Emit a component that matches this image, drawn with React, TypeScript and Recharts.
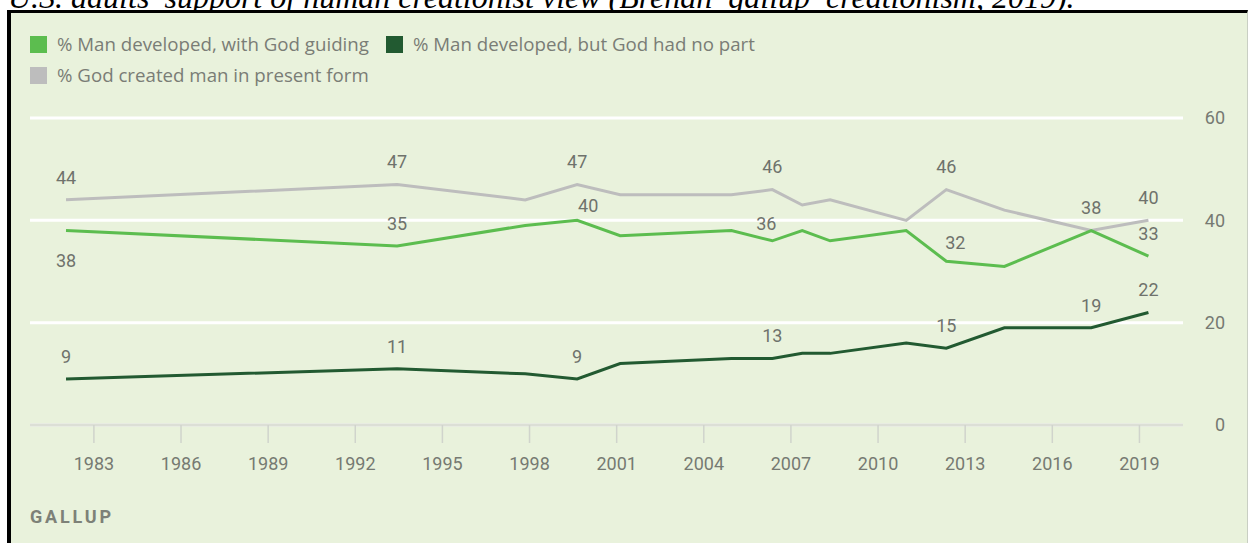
import React from 'react';
import { LineChart, Line, XAxis, YAxis, CartesianGrid, LabelList } from 'recharts';

const surveyDates = [1982.04, 1993.44, 1997.85, 1999.64, 2001.12, 2004.95, 2006.36, 2007.39, 2008.35, 2010.97, 2012.35, 2014.35, 2017.34, 2019.31];
const godGuiding = [38, 35, 39, 40, 37, 38, 36, 38, 36, 38, 32, 31, 38, 33];
const godNoPart = [9, 11, 10, 9, 12, 13, 13, 14, 14, 16, 15, 19, 19, 22];
const presentForm = [44, 47, 44, 47, 45, 45, 46, 43, 44, 40, 46, 42, 38, 40];

const yearTicks = [1983, 1986, 1989, 1992, 1995, 1998, 2001, 2004, 2007, 2010, 2013, 2016, 2019];
const valueTicks = [0, 20, 40, 60];

// which points carry a value label
const presentFormLabels = [0, 1, 3, 6, 10, 13];
const godGuidingLabels = [0, 1, 3, 6, 10, 12, 13];
const godNoPartLabels = [0, 1, 3, 6, 10, 12, 13];

const data = surveyDates.map((date, i) => ({
  date,
  godGuiding: godGuiding[i],
  godNoPart: godNoPart[i],
  presentForm: presentForm[i],
}));

const LIGHT = '#5cbd4f';
const DARK = '#225a31';
const GRAY = '#bdbdbd';
const TEXT = '#767a72';
const FONT = 'Roboto, "Liberation Sans", sans-serif';
const LEGEND_FONT = '"Open Sans", Roboto, sans-serif';

// label nudges, relative to the default spot above the point
const nudges: Record<string, Record<number, { dx?: number; dy?: number }>> = {
  godGuiding: { 0: { dy: 30 }, 3: { dx: 11, dy: -15 }, 6: { dx: -6, dy: -17.5 }, 10: { dx: 9, dy: -18.5 } },
};

const makeLabel = (series: string, shown: number[]) => (props: any) => {
  const { x, y, value, index } = props;
  if (!shown.includes(index)) return null;
  const n = (nudges[series] && nudges[series][index]) || {};
  return (
    <text
      x={x + (n.dx ?? 0)}
      y={y + (n.dy ?? -22.5)}
      dy="0.35em"
      textAnchor="middle"
      fill="#6f726c"
      fontSize={18}
      fontFamily={FONT}
    >
      {value}
    </text>
  );
};

const RightTick = (props: any) => {
  const { x, y, payload } = props;
  return (
    <text x={x} y={y} dy="0.35em" textAnchor="end" fill={TEXT} fontSize={18} fontFamily={FONT}>
      {payload.value}
    </text>
  );
};

const LegendItem = ({ color, text }: { color: string; text: string }) => (
  <span style={{ display: 'inline-flex', alignItems: 'center', marginRight: 17 }}>
    <span style={{ width: 17, height: 17, background: color, display: 'inline-block', marginRight: 10 }}></span>
    <span>{text}</span>
  </span>
);

export default function App() {
  return (
    <div style={{ position: 'absolute', left: 0, top: 0, width: 1249, height: 543, overflow: 'hidden', background: '#fff' }}>
      {/* caption, only its lower half is in view */}
      <div
        style={{
          position: 'absolute', left: 8, top: -19, fontFamily: '"Liberation Serif", serif',
          fontStyle: 'italic', fontSize: 32, lineHeight: '32px', color: '#000', whiteSpace: 'nowrap',
        }}
      >
        U.S. adults’ support of human creationist view (<span style={{ textDecoration: 'underline' }}>Brenan_gallup_creationism</span>, 2019).
      </div>

      {/* panel */}
      <div
        style={{
          position: 'absolute', left: 7, top: 10, width: 1236, height: 560, background: '#e9f2dc',
          borderTop: '3px solid #000', borderLeft: '4px solid #000', borderRight: '1px solid #c9cfc3',
        }}
      />

      {/* legend */}
      <div style={{ position: 'absolute', left: 30, top: 31, fontFamily: LEGEND_FONT, fontSize: 18.7, color: '#7a7d76', lineHeight: '26px' }}>
        <div style={{ display: 'flex' }}>
          <LegendItem color={LIGHT} text="% Man developed, with God guiding" />
          <LegendItem color={DARK} text="% Man developed, but God had no part" />
        </div>
        <div style={{ display: 'flex', marginTop: 5 }}>
          <LegendItem color={GRAY} text="% God created man in present form" />
        </div>
      </div>

      <div style={{ position: 'absolute', left: 0, top: 0 }}>
        <LineChart width={1249} height={543} data={data} margin={{ top: 118, right: 0, bottom: 58, left: 30 }}>
          <CartesianGrid horizontal vertical={false} stroke="#ffffff" strokeWidth={3} />
          <XAxis
            dataKey="date"
            type="number"
            domain={[1980.8, 2020.5]}
            ticks={yearTicks}
            height={60}
            axisLine={{ stroke: '#dcdfd6', strokeWidth: 3 }}
            tickLine={{ stroke: '#d0d4cc', strokeWidth: 1.5 }}
            tickSize={18}
            tickMargin={14}
            tick={{ fill: TEXT, fontSize: 18, fontFamily: FONT }}
          />
          <YAxis
            orientation="right"
            domain={[0, 60]}
            ticks={valueTicks}
            width={66}
            axisLine={false}
            tickLine={false}
            tickSize={0}
            tickMargin={42}
            tick={<RightTick />}
          />
          <Line dataKey="presentForm" stroke={GRAY} strokeWidth={3} dot={false} isAnimationActive={false}>
            <LabelList dataKey="presentForm" content={makeLabel('presentForm', presentFormLabels)} />
          </Line>
          <Line dataKey="godGuiding" stroke={LIGHT} strokeWidth={3} dot={false} isAnimationActive={false}>
            <LabelList dataKey="godGuiding" content={makeLabel('godGuiding', godGuidingLabels)} />
          </Line>
          <Line dataKey="godNoPart" stroke={DARK} strokeWidth={3} dot={false} isAnimationActive={false}>
            <LabelList dataKey="godNoPart" content={makeLabel('godNoPart', godNoPartLabels)} />
          </Line>
        </LineChart>
      </div>

      <div
        style={{
          position: 'absolute', left: 30, top: 506, fontFamily: FONT, fontWeight: 700, fontSize: 18,
          letterSpacing: 2.8, color: '#7d8178', lineHeight: '22px',
        }}
      >
        GALLUP
      </div>
    </div>
  );
}
